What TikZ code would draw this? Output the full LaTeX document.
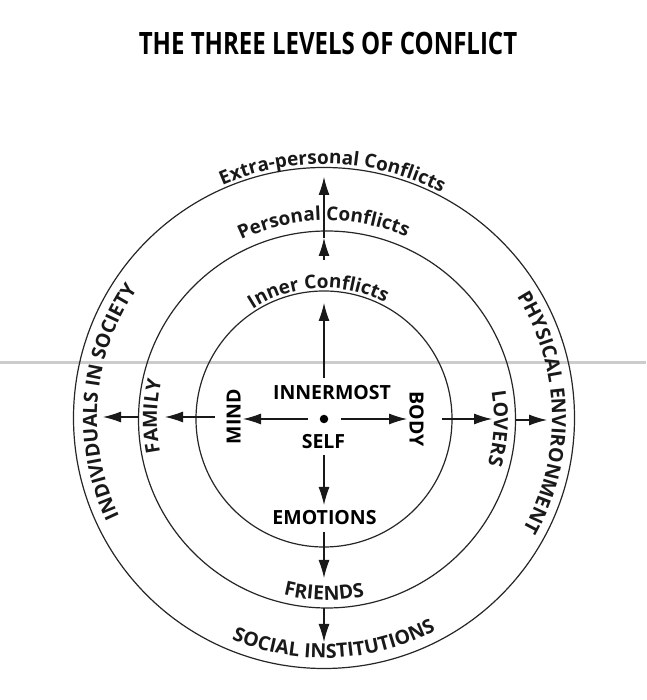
\documentclass[tikz,border=0pt]{standalone}
\usepackage{fontspec}
\setmainfont{Open Sans}
\newfontfamily\titlefont{Open Sans}[FakeStretch=0.78]
\usetikzlibrary{arrows.meta,decorations.text}
\newcommand\lblfont{\bfseries\fontsize{19.5}{20}\selectfont}
\newcommand\arcfont{\bfseries\fontsize{19}{20}\selectfont}
\begin{document}
\begin{tikzpicture}[x=1pt,y=1pt,
  ring/.style={draw=black!85, line width=1.2pt},
  arr/.style={draw=black!90, line width=1.1pt, -{Latex[length=18pt,width=11pt]}},
  caps/.style={font=\lblfont, inner sep=0pt, text height=14pt, text depth=0pt},
  curv/.style={decorate, decoration={text along path, text align=center, text color=black!90, text={#1}}}]
\fill[white] (0,0) rectangle (646,700);
\useasboundingbox (0,0) rectangle (646,700);
% scan line
\draw[line width=3pt, black!20] (0,337) -- (646,337);
% title
\node[inner sep=0pt, text height=22pt, text depth=0pt, font=\titlefont\bfseries\fontsize{30.8}{32}\selectfont] (title) at (328,656) {THE THREE LEVELS OF CONFLICT};
% centres
\coordinate (Co) at (324,282);
\coordinate (Cm) at (327,280.5);
\coordinate (Ci) at (324,281);
% circles
\draw[ring] (Co) circle[radius=250.5];
\draw[ring] (Cm) circle[radius=188.5];
\draw[ring] (Ci) circle[radius=128];
% self dot
\node[circle, fill=black, inner sep=0pt, minimum size=8.5pt] (self) at (324,281) {};
% straight labels
\node[caps] (innermost) at (332,307) {INNERMOST};
\node[caps] (selflbl) at (323.5,258) {SELF};
\node[caps, rotate=90] (mind) at (233.5,283.5) {MIND};
\node[caps, rotate=-90] (body) at (416.5,281) {BODY};
\node[caps] (emotions) at (324.5,182) {EMOTIONS};
% arrow coordinates
\coordinate (u1a) at (324,322); \coordinate (u1b) at (324,397);
\coordinate (u2a) at (324,440); \coordinate (u2b) at (324,462); \coordinate (u3b) at (324,523);
\coordinate (l1a) at (308,281); \coordinate (l1b) at (243,281);
\coordinate (l2a) at (215,283); \coordinate (l2b) at (165,283);
\coordinate (l3a) at (139,283); \coordinate (l3b) at (103,283);
\coordinate (r1a) at (341,281); \coordinate (r1b) at (407,281);
\coordinate (r2a) at (442,281); \coordinate (r2b) at (492,281);
\coordinate (r3a) at (516,280); \coordinate (r3b) at (547,280);
\coordinate (d1a) at (324,245); \coordinate (d1b) at (324,195);
\coordinate (d2a) at (324,168); \coordinate (d2b) at (324,122);
\coordinate (d3a) at (324,92);  \coordinate (d3b) at (324,58);
\draw[arr] (u1a) -- (u1b);
\draw[arr] (u2a) -- (u2b);
\draw[arr] (u2b) -- (u3b);
\draw[arr] (l1a) -- (l1b);
\draw[arr] (l2a) -- (l2b);
\draw[arr] (l3a) -- (l3b);
\draw[arr] (r1a) -- (r1b);
\draw[arr] (r2a) -- (r2b);
\draw[arr] (r3a) -- (r3b);
\draw[arr] (d1a) -- (d1b);
\draw[arr] (d2a) -- (d2b);
\draw[arr] (d3a) -- (d3b);
% curved labels
\path[curv={|\arcfont|Extra-personal Conflicts}] (Co) ++(138:254) arc[start angle=138, end angle=38, radius=254];
\path[curv={|\arcfont|Personal Conflicts}] (Cm) ++(141:199) arc[start angle=141, end angle=41, radius=199];
\path[curv={|\arcfont|Inner Conflicts}] (Ci) ++(142.6:131) arc[start angle=142.6, end angle=42.6, radius=131];
\path[curv={|\lblfont|INDIVIDUALS IN SOCIETY}] (Co) ++(225.5:227) arc[start angle=225.5, end angle=125.5, radius=227];
\path[curv={|\lblfont|FAMILY}] (Cm) ++(214:170) arc[start angle=214, end angle=144, radius=170];
\path[curv={|\lblfont|PHYSICAL ENVIRONMENT}] (Co) ++(51.5:228) arc[start angle=51.5, end angle=-48.5, radius=228];
\path[curv={|\lblfont|LOVERS}] (Cm) ++(32:167) arc[start angle=32, end angle=-38, radius=167];
\path[curv={|\lblfont|FRIENDS}] (Cm) ++(234:180.5) arc[start angle=234, end angle=304, radius=180.5];
\path[curv={|\lblfont|SOCIAL INSTITUTIONS}] (Co) ++(222.6:240) arc[start angle=222.6, end angle=322.6, radius=240];
\end{tikzpicture}
\end{document}
